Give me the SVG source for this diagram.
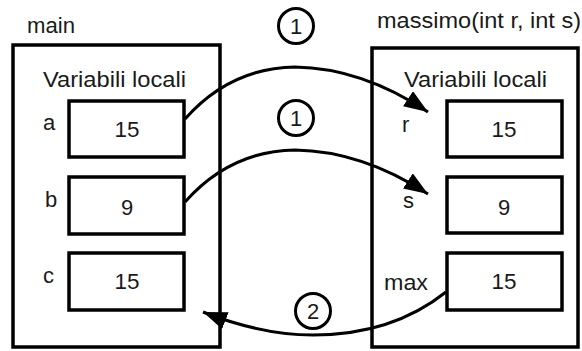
<svg xmlns="http://www.w3.org/2000/svg" width="582" height="351" viewBox="0 0 582 351">
<style>
.frame{fill:#fff;stroke:#000;stroke-width:3.5}
.cell{fill:#fff;stroke:#000;stroke-width:3.5}
text{font-family:"Liberation Sans",Arial,sans-serif;font-size:22px;fill:#1a1a1a}
.c{text-anchor:middle}
.conn{fill:none;stroke:#000;stroke-width:3}
.circ{fill:#fff;stroke:#000;stroke-width:3}
</style>
<defs>
<marker id="ah" markerUnits="userSpaceOnUse" markerWidth="26" markerHeight="20" refX="24" refY="9" orient="auto">
<polygon points="0,0 24,9 0,18" fill="#000"/>
</marker>
</defs>
<rect width="582" height="351" fill="#fff"/>
<g id="main">
<text x="27" y="33" textLength="48" lengthAdjust="spacingAndGlyphs">main</text>
<rect class="frame" x="13" y="45" width="207" height="302"/>
<text x="43" y="87" textLength="143" lengthAdjust="spacingAndGlyphs">Variabili locali</text>
</g>
<g id="var-a">
<text x="43" y="130">a</text>
<rect class="cell" x="69" y="101" width="115" height="56"/>
<text class="c" x="127" y="137" textLength="25" lengthAdjust="spacingAndGlyphs">15</text>
</g>
<g id="var-b">
<text x="45" y="207">b</text>
<rect class="cell" x="69" y="177" width="115" height="57"/>
<text class="c" x="127" y="215">9</text>
</g>
<g id="var-c">
<text x="43" y="283">c</text>
<rect class="cell" x="69" y="253" width="115" height="57"/>
<text class="c" x="127" y="289" textLength="25" lengthAdjust="spacingAndGlyphs">15</text>
</g>
<g id="massimo">
<text x="377" y="28" textLength="204" lengthAdjust="spacingAndGlyphs">massimo(int r, int s)</text>
<rect class="frame" x="372" y="48" width="206" height="299"/>
<text x="404" y="87" textLength="143" lengthAdjust="spacingAndGlyphs">Variabili locali</text>
</g>
<g id="var-r">
<text x="402" y="132">r</text>
<rect class="cell" x="447" y="101" width="115" height="56"/>
<text class="c" x="504" y="137" textLength="25" lengthAdjust="spacingAndGlyphs">15</text>
</g>
<g id="var-s">
<text x="403" y="208">s</text>
<rect class="cell" x="447" y="177" width="115" height="56"/>
<text class="c" x="504" y="215">9</text>
</g>
<g id="var-max">
<text x="384" y="290" textLength="44" lengthAdjust="spacingAndGlyphs">max</text>
<rect class="cell" x="447" y="253" width="115" height="57"/>
<text class="c" x="504" y="289" textLength="25" lengthAdjust="spacingAndGlyphs">15</text>
</g>
<g id="connectors">
<path class="conn" d="M185,119 Q230,68 295,67 Q362,68 428,112" marker-end="url(#ah)"/>
<path class="conn" d="M185,202 Q230,151 295,150 Q362,151 428,194" marker-end="url(#ah)"/>
<path class="conn" d="M446,292 Q392,335 313,335 Q262,335 203,312" marker-end="url(#ah)"/>
</g>
<g id="step1a">
<circle class="circ" cx="296" cy="26" r="17.5"/>
<text class="c" x="296" y="34">1</text>
</g>
<g id="step1b">
<circle class="circ" cx="296" cy="118" r="17.5"/>
<text class="c" x="296" y="126">1</text>
</g>
<g id="step2">
<circle class="circ" cx="313" cy="311" r="17.5"/>
<text class="c" x="313" y="319">2</text>
</g>
</svg>
